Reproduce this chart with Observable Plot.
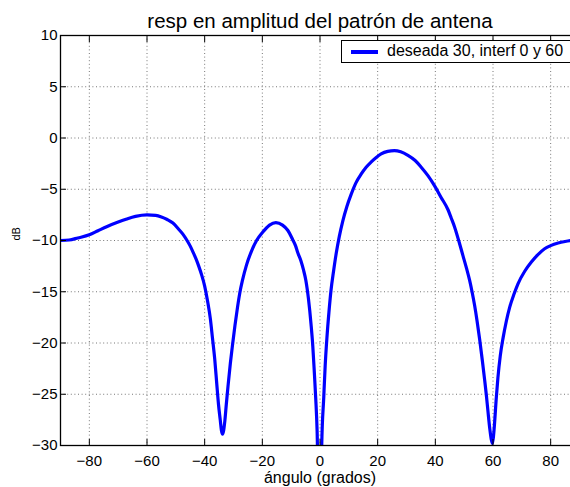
<!DOCTYPE html>
<html>
<head>
<meta charset="utf-8">
<script src="https://cdn.jsdelivr.net/npm/d3@7"></script>
<script src="https://cdn.jsdelivr.net/npm/@observablehq/plot@0.6"></script>
<style>
  html, body { margin: 0; padding: 0; background: #fff; overflow: hidden; }
  #wrap { position: relative; width: 570px; height: 487px; font-family: "Liberation Sans", Arial, sans-serif; }
  #legend { position: absolute; left: 341px; top: 40px; width: 250px; height: 21px; border: 1px solid #000; background: #fff; }
  #legend .sw { position: absolute; left: 9px; top: 9px; width: 27px; height: 3.5px; background: #0000ff; }
  #legend .tx { position: absolute; left: 45px; top: 0px; font-size: 16px; line-height: 20px; color: #000; white-space: nowrap; }
</style>
</head>
<body>
<div id="wrap"></div>
<script>
const titleText = "resp en amplitud del patrón de antena";
const xLabel = "ángulo (grados)";
const yLabel = "dB";
const seriesName = "deseada 30, interf 0 y 60";
const xTicks = [-80, -60, -40, -20, 0, 20, 40, 60, 80];
const yTicks = [-30, -25, -20, -15, -10, -5, 0, 5, 10];

const angle = [-90, -87, -84, -80, -77, -74, -70, -67, -64, -60, -57, -55, -53, -51, -49, -47.5, -46, -45, -44, -43, -42, -41, -40, -39, -38, -37.3, -36.5, -35.8, -35.2, -34.6, -34.2, -33.8, -33.4, -33.0, -32.5, -31.9, -31.1, -30.3, -29.5, -28.6, -27.8, -26.9, -25.5, -24, -22, -19.9, -17.5, -15.3, -13, -11.2, -9.5, -8.5, -7.7, -6.6, -5.7, -4.9, -4, -3.1, -2.5, -2.0, -1.5, -1.0, 0, 0.6, 1.3, 1.8, 2.4, 3.1, 3.8, 4.7, 5.6, 6.7, 7.9, 9.3, 10.8, 12.5, 14.2, 16, 17.7, 19.5, 21.2, 23.5, 25.8, 28, 30.5, 33, 35.1, 37.5, 39.7, 42, 44.4, 45.5, 46.7, 48.2, 49.6, 50.8, 51.9, 52.8, 53.6, 54.5, 55.4, 56.3, 57.1, 57.7, 58.3, 58.9, 59.4, 59.8, 60.2, 60.6, 61.1, 61.7, 62.5, 63.5, 64.6, 65.8, 67.2, 68.7, 71, 73.3, 75.5, 77.9, 80, 82.6, 85, 87.2, 90];
const dB = [-10.0, -9.95, -9.75, -9.45, -9.05, -8.65, -8.2, -7.9, -7.65, -7.5, -7.55, -7.7, -7.95, -8.3, -8.9, -9.4, -10.05, -10.55, -11.15, -11.8, -12.55, -13.4, -14.45, -15.9, -17.7, -19.5, -21.6, -24.0, -26.0, -27.5, -28.5, -28.9, -28.5, -27.6, -26.0, -24.2, -22.0, -20.1, -18.3, -16.5, -15.1, -13.9, -12.4, -11.2, -10.0, -9.2, -8.5, -8.25, -8.5, -9.0, -9.9, -10.5, -11.2, -12.0, -12.9, -13.9, -15.7, -18.2, -20.3, -22.7, -25.3, -28.6, -45, -30.0, -25.3, -22.2, -19.5, -17.0, -14.9, -13.0, -11.3, -9.6, -8.1, -6.7, -5.5, -4.35, -3.55, -2.85, -2.35, -1.9, -1.55, -1.3, -1.23, -1.35, -1.7, -2.2, -2.85, -3.7, -4.65, -5.8, -7.0, -7.8, -8.7, -10.1, -11.5, -12.7, -13.9, -15.1, -16.3, -17.9, -19.7, -21.7, -23.6, -25.1, -26.8, -28.4, -29.4, -29.8, -29.0, -27.6, -25.5, -23.4, -21.3, -19.5, -17.9, -16.5, -15.3, -14.2, -13.0, -12.1, -11.4, -10.8, -10.5, -10.25, -10.1, -10.0, -9.95];

const data = angle.map((a, i) => ({angle: a, dB: dB[i]}));

const font = '"Liberation Sans", Arial, sans-serif';

const chart = Plot.plot({
  width: 570,
  height: 487,
  marginLeft: 60,
  marginRight: -9,
  marginTop: 35,
  marginBottom: 42,
  style: {fontFamily: font, fontSize: "15px", color: "#000", background: "transparent", overflow: "visible"},
  x: {domain: [-90, 90]},
  y: {domain: [-30, 10]},
  marks: [
    Plot.gridX(xTicks, {stroke: "#777", strokeOpacity: 1, strokeDasharray: "1,2.6"}),
    Plot.gridY(yTicks, {stroke: "#777", strokeOpacity: 1, strokeDasharray: "1,2.6"}),
    Plot.line(data, {x: "angle", y: "dB", stroke: "#0000ff", strokeWidth: 3.2, strokeLinejoin: "round", clip: true, curve: "monotone-x"}),
    Plot.axisX(xTicks, {anchor: "bottom", tickSize: -6, tickPadding: 16, label: null, fontSize: 15}),
    Plot.axisX(xTicks, {anchor: "top", tickSize: -6, label: null, tickFormat: () => ""}),
    Plot.axisY(yTicks, {anchor: "left", tickSize: -6, tickPadding: 9, label: null, fontSize: 15}),
    Plot.frame({stroke: "#000", strokeWidth: 1.3}),
    Plot.text([titleText], {frameAnchor: "top", dy: -8, lineAnchor: "bottom", fontSize: 20.5, text: d => d}),
    Plot.text([xLabel], {frameAnchor: "bottom", dy: 26, lineAnchor: "top", fontSize: 16, text: d => d}),
    Plot.text([yLabel], {frameAnchor: "left", dx: -44, rotate: -90, fontSize: 11, text: d => d})
  ]
});

const wrap = document.getElementById("wrap");
wrap.appendChild(chart);
const lg = document.createElement("div");
lg.id = "legend";
lg.innerHTML = '<div class="sw"></div><div class="tx"></div>';
lg.querySelector(".tx").textContent = seriesName;
wrap.appendChild(lg);
</script>
</body>
</html>
